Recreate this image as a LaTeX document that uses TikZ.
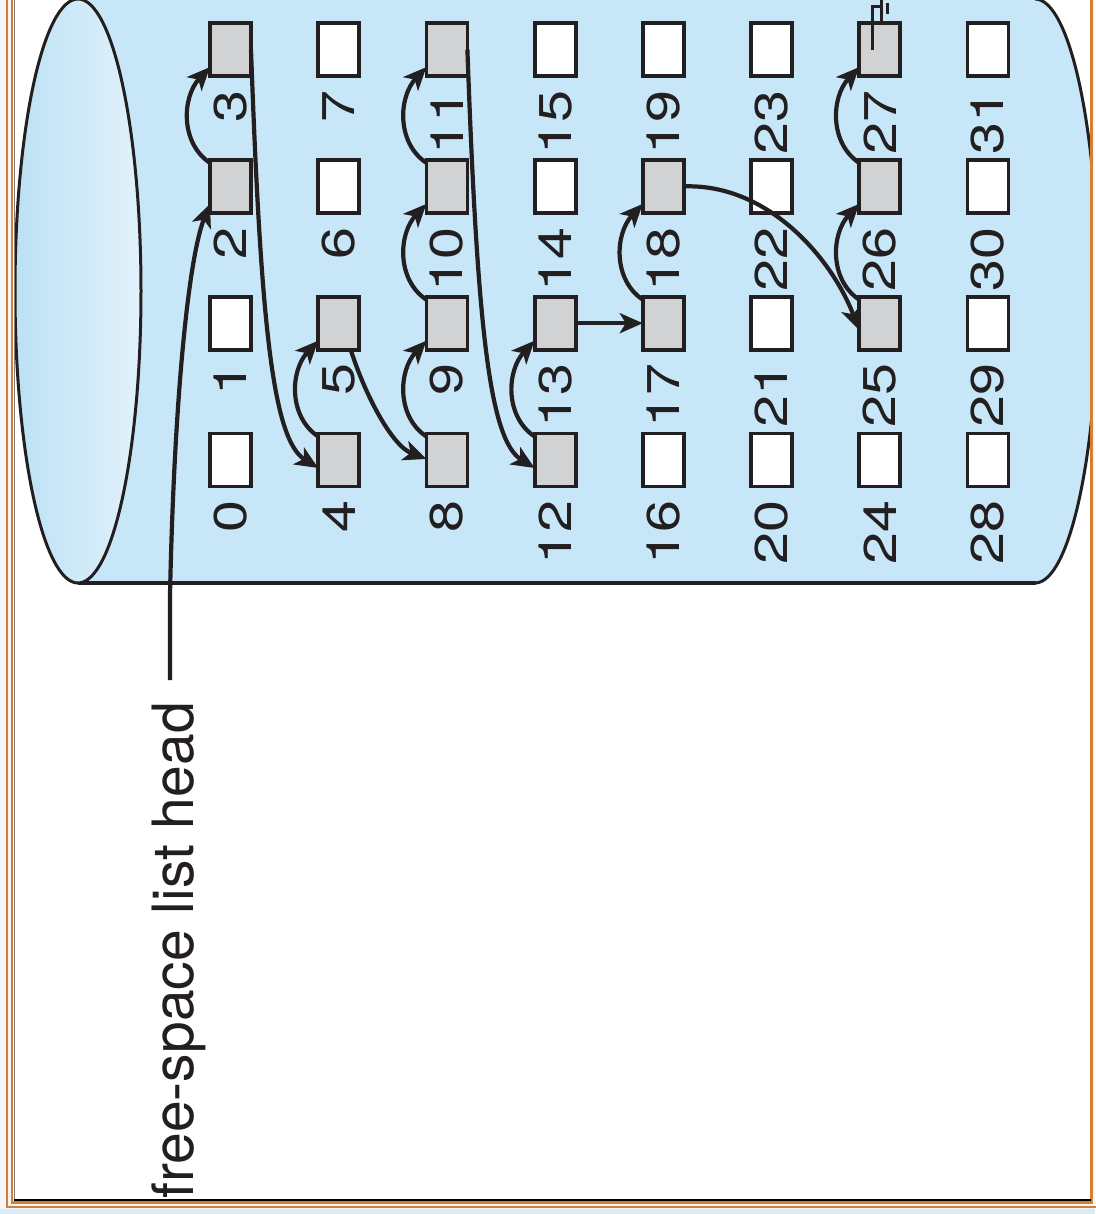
\documentclass[tikz,border=0pt]{standalone}
\usepackage{fontspec}
\setmainfont{TeX Gyre Heros}
\newfontfamily\numfont[FakeStretch=1.25]{TeX Gyre Heros}
\usetikzlibrary{calc,arrows.meta}

\definecolor{ink}{RGB}{35,31,32}
\definecolor{bodyblue}{RGB}{199,231,248}
\definecolor{endlight}{RGB}{226,242,251}
\definecolor{enddark}{RGB}{188,225,245}
\definecolor{blkgray}{RGB}{209,210,212}
\definecolor{frameorange}{RGB}{212,128,50}
\definecolor{pagebg}{RGB}{243,245,247}
\definecolor{stripblue}{RGB}{214,236,248}

\tikzset{
  blk/.style={draw=ink, line width=3.8pt, minimum width=41pt, minimum height=53pt,
              inner sep=0pt, outer sep=0pt},
  freeblk/.style={blk, fill=blkgray},
  usedblk/.style={blk, fill=white},
  num/.style={rotate=90, anchor=east, inner sep=0pt, text=ink,
              font=\numfont\fontsize{46}{46}\selectfont},
  link/.style={draw=ink, line width=4.2pt,
               -{Stealth[length=23pt,width=20pt,inset=6pt]}},
  nullmark/.style={draw=ink, line width=2.8pt}
}

\begin{document}
\begin{tikzpicture}[x=1pt,y=-1pt]
\useasboundingbox (0,0) rectangle (1095,1214);

% page background and frame interior
\fill[pagebg] (0,0) rectangle (1095,1214);
\fill[stripblue] (0,1209) rectangle (1095,1214);
\fill[white] (13,-5) rectangle (1091,1201);

% the disk drawn as a cylinder lying on its side
\begin{scope}
  \clip (14.5,-5) rectangle (1090,1199);
  \fill[bodyblue] (78,-1) rectangle (1035,583);
  \fill[bodyblue] (1035,291) ellipse [x radius=63, y radius=292];
  \begin{scope}
    \clip (1035,-10) rectangle (1120,600);
    \draw[ink, line width=3pt] (1035,291) ellipse [x radius=63, y radius=292];
  \end{scope}
  \draw[ink, line width=3.8pt] (78,583) -- (1036,583);
  \draw[ink, line width=3pt, left color=enddark, right color=endlight]
    (78,291) ellipse [x radius=63, y radius=292];
\end{scope}

% double orange frame
\draw[frameorange, line width=2.8pt] (7,-10) -- (7,1207) -- (1100,1207);
\draw[frameorange, line width=2.8pt] (12,-10) -- (12,1202.5) -- (1091.7,1202.5) -- (1091.7,-10);
\draw[gray, line width=1.6pt] (14.3,-10) -- (14.3,1199);
\draw[black, line width=2.4pt] (13.5,1200) -- (1090.5,1200);

% disk blocks and their numbers
\foreach \n/\s in {0/usedblk,1/usedblk,2/freeblk,3/freeblk,4/freeblk,5/freeblk,
                   6/usedblk,7/usedblk,8/freeblk,9/freeblk,10/freeblk,11/freeblk,
                   12/freeblk,13/freeblk,14/usedblk,15/usedblk,16/usedblk,17/freeblk,
                   18/freeblk,19/usedblk,20/usedblk,21/usedblk,22/usedblk,23/usedblk,
                   24/usedblk,25/freeblk,26/freeblk,27/freeblk,28/usedblk,29/usedblk,
                   30/usedblk,31/usedblk}{
  \pgfmathsetmacro\bx{230.5+108.2*int(\n/4)}
  \pgfmathsetmacro\by{460-136.8*mod(\n,4)}
  \node[\s] (b\n) at (\bx,\by) {};
  \node[num] (l\n) at ($(b\n.south)+(0,14)$) {\n};
}

% list head label
\node[rotate=90, anchor=base west, inner sep=0pt, text=ink,
      font=\fontsize{57}{57}\selectfont] (head) at (193,1199) {free-space list head};
\coordinate (hs) at (170,680);

% free-space chain
\draw[link] (hs) -- +(0,-85) .. controls +(4,-190) and +(-22,55) .. ($(b2.south west)+(0,-9)$);

\foreach \a/\b in {2/3,4/5,8/9,9/10,10/11,12/13,17/18,25/26,26/27}{
  \draw[link] ($(b\a.north west)+(0,3)$) .. controls +(-30,-20) and +(-28,30) ..
              ($(b\b.south west)+(0,-9)$);
}

\draw[link] (b3.east) .. controls +(10,280) and +(-45,-28) .. ($(b4.west)+(0,8)$);
\draw[link] ($(b5.south)+(12,0)$) .. controls +(15,47) and +(-34,-13) .. ($(b8.west)+(0,-1)$);
\draw[link] (b11.east) .. controls +(10,280) and +(-45,-28) .. ($(b12.west)+(0,8)$);
\draw[link] (b13.east) -- (b17.west);
\draw[link] (b18.east) .. controls +(85,-3) and +(-27,-71) .. ($(b25.west)+(0,7)$);

% null pointer at the end of the chain
\coordinate (g0) at ($(b27.center)+(-7,0)$);
\draw[nullmark] (g0) -- ++(0,-43) -- ++(9,0);
\draw[nullmark] ($(g0)+(9,-57)$) -- ++(0,28);
\draw[nullmark] ($(g0)+(15,-47)$) -- ++(0,11);
\end{tikzpicture}
\end{document}
